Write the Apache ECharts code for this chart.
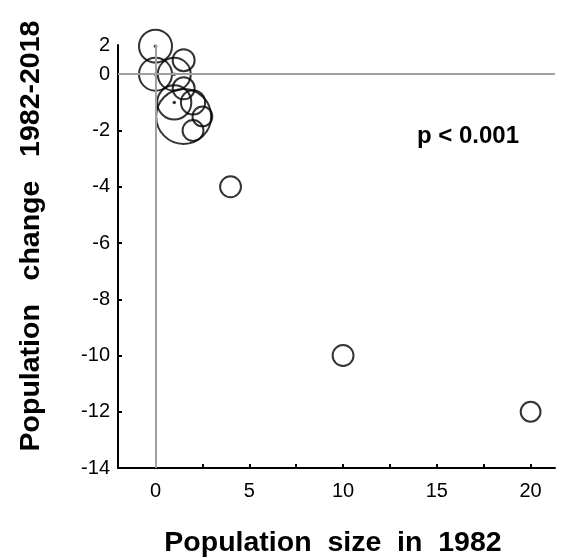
<!DOCTYPE html>
<html>
<head>
<meta charset="utf-8">
<script src="https://cdn.jsdelivr.net/npm/echarts@6/dist/echarts.min.js"></script>
<style>
html,body{margin:0;padding:0;background:#fff;}
#c{width:567px;height:558px;}
</style>
</head>
<body>
<div id="c"></div>
<script>
// ---- data ----
const sizeX   = [0, 0, 1, 1.5, 1, 1.5, 2, 1.5, 2.5, 2, 4, 10, 20];
const changeY = [1, 0, 0, 0.5, -1, -0.5, -1, -1.5, -1.5, -2, -4, -10, -12];
const weight  = [3, 3, 3, 2, 3.1, 2, 2.2, 5, 1.8, 1.9, 1.9, 1.9, 1.8];
const dotX = [0, 0, 1, 1];
const dotY = [1, 0, 0, -1];
const xTickValues  = [2.5, 5, 7.5, 10, 12.5, 15, 17.5, 20];
const xLabelValues = [0, 5, 10, 15, 20];
const yTickValues  = [-14, -12, -10, -8, -6, -4, -2, 0];
const yTopLabel = '2';
const pText = 'p < 0.001';
const xTitle = 'Population  size  in  1982';
const yTitle = 'Population   change   1982-2018';

const xMin = -2, xMax = 21.3, yMin = -14, yMax = 1.04;

const chart = echarts.init(document.getElementById('c'), null, {renderer:'canvas'});
const bubbles = sizeX.map((x,i)=>[x, changeY[i], weight[i]]);
const dots = dotX.map((x,i)=>[x, dotY[i]]);
const font = 'Liberation Sans, Arial, Helvetica, sans-serif';

chart.setOption({
  animation:false,
  grid:{left:118, top:45, right:12, bottom:90, containLabel:false},
  xAxis:{
    type:'value', min:xMin, max:xMax,
    axisLine:{show:true, onZero:false, lineStyle:{color:'#000', width:2}},
    axisTick:{show:true, inside:true, length:4, customValues:xTickValues, lineStyle:{color:'#000', width:2}},
    axisLabel:{customValues:xLabelValues, color:'#000', fontSize:20, fontFamily:font, margin:13},
    splitLine:{show:false}
  },
  yAxis:{
    type:'value', min:yMin, max:yMax,
    axisLine:{show:true, onZero:false, lineStyle:{color:'#000', width:2}},
    axisTick:{show:true, inside:true, length:4, customValues:yTickValues, lineStyle:{color:'#000', width:2}},
    axisLabel:{customValues:yTickValues.concat([yMax]), color:'#000', fontSize:20, fontFamily:font, margin:8,
      showMaxLabel:true, showMinLabel:true,
      formatter:v=> (v===yMax ? yTopLabel : String(v))},
    splitLine:{show:false}
  },
  graphic:[
    {type:'text', x:333, y:543, style:{text:xTitle, font:'bold 28.5px '+font, fill:'#000', textAlign:'center', textVerticalAlign:'middle'}},
    {type:'text', x:31, y:236, rotation:Math.PI/2, style:{text:yTitle, font:'bold 28.5px '+font, fill:'#000', textAlign:'center', textVerticalAlign:'middle'}},
    {type:'text', x:468, y:136, style:{text:pText, font:'bold 24px '+font, fill:'#000', textAlign:'center', textVerticalAlign:'middle'}}
  ],
  series:[
    {
      type:'scatter', data:bubbles, symbol:'circle',
      symbolSize:d=>d[2]*11,
      itemStyle:{color:'rgba(0,0,0,0)', borderColor:'#000', borderWidth:2},
      silent:true,
      markLine:{
        silent:true, symbol:'none', label:{show:false},
        lineStyle:{color:'#a0a0a0', width:2, type:'solid'},
        data:[{xAxis:0},{yAxis:0}]
      },
      z:3
    },
    {
      type:'scatter', data:dots, symbol:'circle', symbolSize:3.5,
      itemStyle:{color:'#000'}, silent:true, z:4
    }
  ]
});
</script>
</body>
</html>
